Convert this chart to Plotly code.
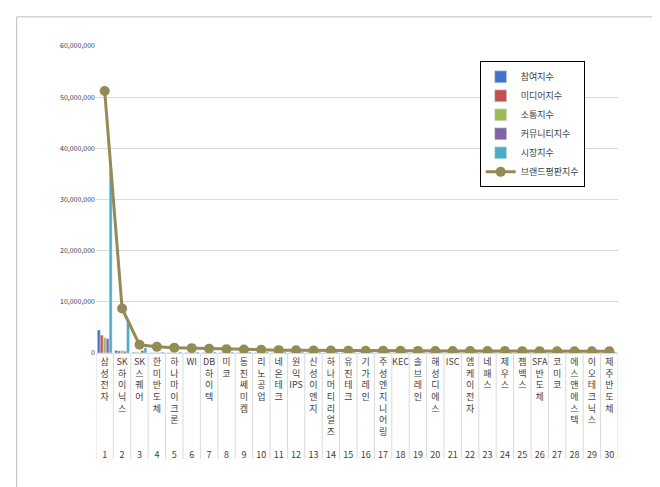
import plotly.graph_objects as go
import re

names = ["삼성전자","SK하이닉스","SK스퀘어","한미반도체","하나마이크론","WI","DB하이텍","미코","동진쎄미켐","리노공업",
         "네온테크","원익IPS","신성이엔지","하나머티리얼즈","유진테크","기가레인","주성엔지니어링","KEC","솔브레인","해성디에스",
         "ISC","엠케이전자","네패스","제우스","젬백스","SFA반도체","코미코","에스앤에스텍","이오테크닉스","제주반도체"]
participation = [4500000,500000,150000]+[60000]*27
media = [3500000,400000,100000]+[40000]*27
communication = [3000000,450000,120000]+[40000]*27
community = [2800000,350000,500000]+[40000]*27
market = [36000000,6000000,1000000]+[200000]*27
brand = [51200000,8700000,1600000,1200000,1050000,950000,850000,750000,680000,620000,
         560000,530000,500000,480000,460000,440000,430000,420000,410000,400000,
         390000,380000,375000,370000,365000,360000,355000,350000,345000,340000]

def stack(n, idx):
    toks = re.findall(r"[A-Za-z]+|.", n)
    lines = toks + [""]*(7-len(toks))
    return "<br>".join(lines) + "<br><br>" + str(idx)

cats = [str(i+1) for i in range(30)]
ticktext = [stack(n, i+1) for i, n in enumerate(names)]

fig = go.Figure()
for nm, vals, col in [("참여지수",participation,"#4472C4"),("미디어지수",media,"#C0504D"),
                      ("소통지수",communication,"#9BBB59"),("커뮤니티지수",community,"#8064A2"),
                      ("시장지수",market,"#4BACC6")]:
    fig.add_trace(go.Bar(x=cats, y=vals, name=nm, marker_color=col))
fig.add_trace(go.Scatter(x=cats, y=brand, name="브랜드평판지수", mode="lines+markers",
                         line=dict(color="#948A54", width=3), marker=dict(size=10, color="#948A54")))

shapes = [dict(type="rect", xref="paper", yref="paper", x0=-0.152, x1=1.077, y0=-0.445, y1=1.095,
               line=dict(color="#BFBFBF", width=1))]
for i in range(31):
    shapes.append(dict(type="line", xref="x", yref="paper", x0=i-0.5, x1=i-0.5, y0=0, y1=-0.345,
                       line=dict(color="#D9D9D9", width=1)))

fig.update_layout(
    width=660, height=487, margin=dict(l=88, r=50, t=38, b=142, autoexpand=False),
    paper_bgcolor="white", plot_bgcolor="white",
    font=dict(family="Noto Sans CJK KR", size=9, color="#404040"),
    barmode="group", bargap=0.15, bargroupgap=0,
    shapes=shapes,
    legend=dict(x=0.735, y=0.95, xanchor="left", yanchor="top", bordercolor="#000", borderwidth=1,
                font=dict(size=9, color="#404040"), tracegroupgap=12, itemwidth=30, bgcolor="white"),
    xaxis=dict(tickmode="array", tickvals=cats, ticktext=ticktext, tickangle=0, automargin=False,
               tickfont=dict(size=9, color="#404040"), showline=True, linecolor="#D9D9D9", ticks="", range=[-0.5,29.5]),
    yaxis=dict(range=[0,60000000], dtick=10000000, tickformat=",d", gridcolor="#D9D9D9", automargin=False,
               tickfont=dict(size=7, color="#404040"), zeroline=False),
)
fig.write_html("out.html")
